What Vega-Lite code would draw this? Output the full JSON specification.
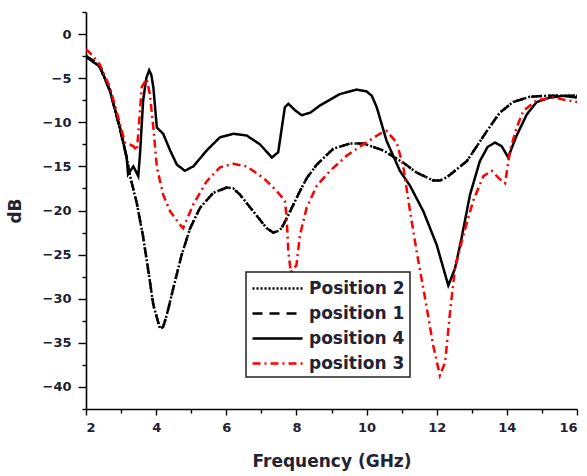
{
  "$schema": "https://vega.github.io/schema/vega-lite/v6.json",
  "autosize": "none",
  "width": 491,
  "height": 397,
  "padding": {"left": 86, "top": 12, "right": 10, "bottom": 67},
  "background": "white",
  "config": {
    "view": {"stroke": null},
    "axis": {
      "labelFont": "DejaVu Sans", "labelFontWeight": "bold", "labelFontSize": 13, "labelColor": "#222233",
      "titleFont": "DejaVu Sans", "titleFontWeight": "bold", "titleFontSize": 17, "titleColor": "#222233",
      "domainColor": "black", "domainWidth": 1.6, "tickColor": "black", "tickWidth": 1.4, "grid": false
    },
    "legend": {
      "orient": "none", "legendX": 160, "legendY": 260,
      "strokeColor": "#222222", "strokeWidth": 1.5, "padding": 5,
      "symbolType": "M-1,0H4", "symbolSize": 400, "symbolStrokeWidth": 2.5,
      "labelFont": "DejaVu Sans", "labelFontWeight": "bold", "labelFontSize": 17, "labelColor": "#222233",
      "labelOffset": 35, "rowPadding": 5
    }
  },
  "data": {"values": [
    {"s":"Position 2","f":2.0,"v":-2.5},{"s":"Position 2","f":2.2,"v":-3.0},{"s":"Position 2","f":2.4,"v":-3.8},{"s":"Position 2","f":2.68,"v":-6.4},{"s":"Position 2","f":2.97,"v":-10.8},{"s":"Position 2","f":3.16,"v":-14.0},{"s":"Position 2","f":3.25,"v":-16.0},{"s":"Position 2","f":3.45,"v":-19.2},{"s":"Position 2","f":3.63,"v":-23.0},{"s":"Position 2","f":3.78,"v":-26.9},{"s":"Position 2","f":3.92,"v":-30.7},{"s":"Position 2","f":4.11,"v":-33.4},{"s":"Position 2","f":4.2,"v":-33.2},{"s":"Position 2","f":4.3,"v":-31.9},{"s":"Position 2","f":4.49,"v":-28.8},{"s":"Position 2","f":4.73,"v":-25.0},{"s":"Position 2","f":4.97,"v":-22.0},{"s":"Position 2","f":5.25,"v":-19.7},{"s":"Position 2","f":5.63,"v":-18.0},{"s":"Position 2","f":6.01,"v":-17.4},{"s":"Position 2","f":6.2,"v":-17.5},{"s":"Position 2","f":6.39,"v":-18.2},{"s":"Position 2","f":6.77,"v":-20.1},{"s":"Position 2","f":7.15,"v":-22.0},{"s":"Position 2","f":7.34,"v":-22.5},{"s":"Position 2","f":7.5,"v":-22.3},{"s":"Position 2","f":7.58,"v":-22.0},{"s":"Position 2","f":7.82,"v":-20.1},{"s":"Position 2","f":8.1,"v":-17.8},{"s":"Position 2","f":8.3,"v":-16.3},{"s":"Position 2","f":8.58,"v":-14.8},{"s":"Position 2","f":9.05,"v":-13.0},{"s":"Position 2","f":9.53,"v":-12.4},{"s":"Position 2","f":9.91,"v":-12.4},{"s":"Position 2","f":10.48,"v":-13.2},{"s":"Position 2","f":11.05,"v":-14.6},{"s":"Position 2","f":11.43,"v":-15.7},{"s":"Position 2","f":11.9,"v":-16.6},{"s":"Position 2","f":12.1,"v":-16.6},{"s":"Position 2","f":12.3,"v":-16.2},{"s":"Position 2","f":12.86,"v":-14.4},{"s":"Position 2","f":13.43,"v":-11.0},{"s":"Position 2","f":13.8,"v":-8.9},{"s":"Position 2","f":14.18,"v":-7.7},{"s":"Position 2","f":14.66,"v":-7.1},{"s":"Position 2","f":15.14,"v":-7.0},{"s":"Position 2","f":15.6,"v":-7.0},{"s":"Position 2","f":16.0,"v":-7.0},

    {"s":"position 1","f":2.0,"v":-2.5},{"s":"position 1","f":2.2,"v":-3.0},{"s":"position 1","f":2.4,"v":-3.8},{"s":"position 1","f":2.68,"v":-6.4},{"s":"position 1","f":2.97,"v":-10.8},{"s":"position 1","f":3.16,"v":-14.0},{"s":"position 1","f":3.25,"v":-16.0},{"s":"position 1","f":3.45,"v":-19.2},{"s":"position 1","f":3.63,"v":-23.0},{"s":"position 1","f":3.78,"v":-26.9},{"s":"position 1","f":3.92,"v":-30.7},{"s":"position 1","f":4.11,"v":-33.4},{"s":"position 1","f":4.2,"v":-33.2},{"s":"position 1","f":4.3,"v":-31.9},{"s":"position 1","f":4.49,"v":-28.8},{"s":"position 1","f":4.73,"v":-25.0},{"s":"position 1","f":4.97,"v":-22.0},{"s":"position 1","f":5.25,"v":-19.7},{"s":"position 1","f":5.63,"v":-18.0},{"s":"position 1","f":6.01,"v":-17.4},{"s":"position 1","f":6.2,"v":-17.5},{"s":"position 1","f":6.39,"v":-18.2},{"s":"position 1","f":6.77,"v":-20.1},{"s":"position 1","f":7.15,"v":-22.0},{"s":"position 1","f":7.34,"v":-22.5},{"s":"position 1","f":7.5,"v":-22.3},{"s":"position 1","f":7.58,"v":-22.0},{"s":"position 1","f":7.82,"v":-20.1},{"s":"position 1","f":8.1,"v":-17.8},{"s":"position 1","f":8.3,"v":-16.3},{"s":"position 1","f":8.58,"v":-14.8},{"s":"position 1","f":9.05,"v":-13.0},{"s":"position 1","f":9.53,"v":-12.4},{"s":"position 1","f":9.91,"v":-12.4},{"s":"position 1","f":10.48,"v":-13.2},{"s":"position 1","f":11.05,"v":-14.6},{"s":"position 1","f":11.43,"v":-15.7},{"s":"position 1","f":11.9,"v":-16.6},{"s":"position 1","f":12.1,"v":-16.6},{"s":"position 1","f":12.3,"v":-16.2},{"s":"position 1","f":12.86,"v":-14.4},{"s":"position 1","f":13.43,"v":-11.0},{"s":"position 1","f":13.8,"v":-8.9},{"s":"position 1","f":14.18,"v":-7.7},{"s":"position 1","f":14.66,"v":-7.1},{"s":"position 1","f":15.14,"v":-7.0},{"s":"position 1","f":15.6,"v":-7.0},{"s":"position 1","f":16.0,"v":-7.0},

    {"s":"position 4","f":2.0,"v":-2.6},{"s":"position 4","f":2.4,"v":-3.7},{"s":"position 4","f":2.68,"v":-6.4},{"s":"position 4","f":2.97,"v":-10.6},{"s":"position 4","f":3.16,"v":-14.0},{"s":"position 4","f":3.2,"v":-15.9},{"s":"position 4","f":3.35,"v":-15.0},{"s":"position 4","f":3.49,"v":-16.1},{"s":"position 4","f":3.54,"v":-13.6},{"s":"position 4","f":3.63,"v":-7.5},{"s":"position 4","f":3.72,"v":-5.0},{"s":"position 4","f":3.8,"v":-4.1},{"s":"position 4","f":3.86,"v":-4.6},{"s":"position 4","f":3.92,"v":-6.0},{"s":"position 4","f":4.02,"v":-10.6},{"s":"position 4","f":4.2,"v":-11.3},{"s":"position 4","f":4.4,"v":-13.2},{"s":"position 4","f":4.59,"v":-14.8},{"s":"position 4","f":4.82,"v":-15.5},{"s":"position 4","f":5.06,"v":-15.0},{"s":"position 4","f":5.44,"v":-13.2},{"s":"position 4","f":5.82,"v":-11.7},{"s":"position 4","f":6.2,"v":-11.3},{"s":"position 4","f":6.58,"v":-11.5},{"s":"position 4","f":6.96,"v":-12.5},{"s":"position 4","f":7.3,"v":-14.0},{"s":"position 4","f":7.48,"v":-13.4},{"s":"position 4","f":7.67,"v":-8.3},{"s":"position 4","f":7.77,"v":-7.9},{"s":"position 4","f":7.95,"v":-8.6},{"s":"position 4","f":8.15,"v":-9.2},{"s":"position 4","f":8.4,"v":-8.9},{"s":"position 4","f":8.67,"v":-8.1},{"s":"position 4","f":9.24,"v":-6.8},{"s":"position 4","f":9.72,"v":-6.3},{"s":"position 4","f":10.0,"v":-6.5},{"s":"position 4","f":10.15,"v":-7.0},{"s":"position 4","f":10.29,"v":-8.3},{"s":"position 4","f":10.57,"v":-12.1},{"s":"position 4","f":10.95,"v":-15.5},{"s":"position 4","f":11.24,"v":-17.2},{"s":"position 4","f":11.62,"v":-20.1},{"s":"position 4","f":12.0,"v":-23.9},{"s":"position 4","f":12.33,"v":-28.5},{"s":"position 4","f":12.52,"v":-26.6},{"s":"position 4","f":12.71,"v":-23.1},{"s":"position 4","f":12.95,"v":-18.2},{"s":"position 4","f":13.23,"v":-14.4},{"s":"position 4","f":13.45,"v":-12.8},{"s":"position 4","f":13.66,"v":-12.3},{"s":"position 4","f":13.85,"v":-12.7},{"s":"position 4","f":14.04,"v":-14.0},{"s":"position 4","f":14.15,"v":-12.8},{"s":"position 4","f":14.28,"v":-11.5},{"s":"position 4","f":14.57,"v":-9.1},{"s":"position 4","f":14.85,"v":-7.7},{"s":"position 4","f":15.23,"v":-7.2},{"s":"position 4","f":15.61,"v":-7.0},{"s":"position 4","f":16.0,"v":-7.2},

    {"s":"position 3","f":2.0,"v":-1.7},{"s":"position 3","f":2.2,"v":-2.5},{"s":"position 3","f":2.4,"v":-3.5},{"s":"position 3","f":2.68,"v":-6.0},{"s":"position 3","f":2.97,"v":-10.2},{"s":"position 3","f":3.11,"v":-12.3},{"s":"position 3","f":3.35,"v":-12.7},{"s":"position 3","f":3.45,"v":-13.2},{"s":"position 3","f":3.49,"v":-11.3},{"s":"position 3","f":3.59,"v":-6.0},{"s":"position 3","f":3.73,"v":-5.1},{"s":"position 3","f":3.82,"v":-6.8},{"s":"position 3","f":3.92,"v":-10.6},{"s":"position 3","f":4.02,"v":-15.1},{"s":"position 3","f":4.2,"v":-18.2},{"s":"position 3","f":4.4,"v":-20.1},{"s":"position 3","f":4.68,"v":-21.6},{"s":"position 3","f":4.77,"v":-22.0},{"s":"position 3","f":5.06,"v":-19.3},{"s":"position 3","f":5.44,"v":-16.7},{"s":"position 3","f":5.82,"v":-15.1},{"s":"position 3","f":6.2,"v":-14.7},{"s":"position 3","f":6.58,"v":-15.0},{"s":"position 3","f":7.06,"v":-16.3},{"s":"position 3","f":7.44,"v":-17.8},{"s":"position 3","f":7.67,"v":-18.9},{"s":"position 3","f":7.72,"v":-20.7},{"s":"position 3","f":7.77,"v":-24.7},{"s":"position 3","f":7.84,"v":-27.0},{"s":"position 3","f":8.0,"v":-26.2},{"s":"position 3","f":8.1,"v":-22.8},{"s":"position 3","f":8.29,"v":-19.7},{"s":"position 3","f":8.58,"v":-17.2},{"s":"position 3","f":8.96,"v":-15.5},{"s":"position 3","f":9.43,"v":-13.8},{"s":"position 3","f":9.91,"v":-12.5},{"s":"position 3","f":10.38,"v":-11.3},{"s":"position 3","f":10.57,"v":-11.0},{"s":"position 3","f":10.86,"v":-12.3},{"s":"position 3","f":11.05,"v":-15.1},{"s":"position 3","f":11.24,"v":-20.1},{"s":"position 3","f":11.43,"v":-24.7},{"s":"position 3","f":11.67,"v":-30.0},{"s":"position 3","f":11.9,"v":-35.3},{"s":"position 3","f":12.09,"v":-38.7},{"s":"position 3","f":12.24,"v":-37.2},{"s":"position 3","f":12.38,"v":-31.5},{"s":"position 3","f":12.52,"v":-26.6},{"s":"position 3","f":12.76,"v":-22.8},{"s":"position 3","f":13.04,"v":-18.9},{"s":"position 3","f":13.33,"v":-16.1},{"s":"position 3","f":13.57,"v":-15.5},{"s":"position 3","f":13.76,"v":-16.3},{"s":"position 3","f":13.95,"v":-16.9},{"s":"position 3","f":14.09,"v":-13.2},{"s":"position 3","f":14.28,"v":-10.6},{"s":"position 3","f":14.47,"v":-8.7},{"s":"position 3","f":14.85,"v":-7.5},{"s":"position 3","f":15.33,"v":-7.2},{"s":"position 3","f":15.71,"v":-7.5},{"s":"position 3","f":16.0,"v":-7.7}
  ]},
  "layer": [
    {
      "mark": {"type": "line", "strokeWidth": 2.5, "clip": true},
      "encoding": {
        "x": {"field": "f", "type": "quantitative", "scale": {"domain": [2, 16], "nice": false, "zero": false},
              "axis": {"title": "Frequency (GHz)", "values": [2,4,6,8,10,12,14,16], "tickSize": 6, "labelPadding": 6, "titlePadding": 19, "orient": "bottom"}},
        "y": {"field": "v", "type": "quantitative", "scale": {"domain": [-42.5, 2.5], "nice": false, "zero": false},
              "axis": {"title": "dB", "values": [0,-5,-10,-15,-20,-25,-30,-35,-40], "tickSize": 8, "labelPadding": 7, "titlePadding": 18, "orient": "left"}},
        "color": {"field": "s", "type": "nominal",
                  "scale": {"domain": ["Position 2","position 1","position 4","position 3"], "range": ["black","black","black","#ff0000"]},
                  "legend": {"title": null}},
        "strokeDash": {"field": "s", "type": "nominal",
                  "scale": {"domain": ["Position 2","position 1","position 4","position 3"], "range": [[2,2],[10,7],[1,0],[8,4,2,4]]},
                  "legend": {"title": null}},
        "order": {"field": "f", "type": "quantitative"}
      }
    },
    {
      "mark": {"type": "line", "opacity": 0},
      "encoding": {
        "x": {"field": "f", "type": "quantitative",
              "axis": {"title": null, "values": [3,5,7,9,11,13,15], "labels": false, "domain": false, "tickSize": 4, "orient": "bottom"}},
        "y": {"field": "v", "type": "quantitative",
              "axis": {"title": null, "values": [2.5,-2.5,-7.5,-12.5,-17.5,-22.5,-27.5,-32.5,-37.5,-42.5], "labels": false, "domain": false, "tickSize": 4, "orient": "left"}},
        "detail": {"field": "s"}
      }
    }
  ],
  "resolve": {"axis": {"x": "independent", "y": "independent"}}
}
